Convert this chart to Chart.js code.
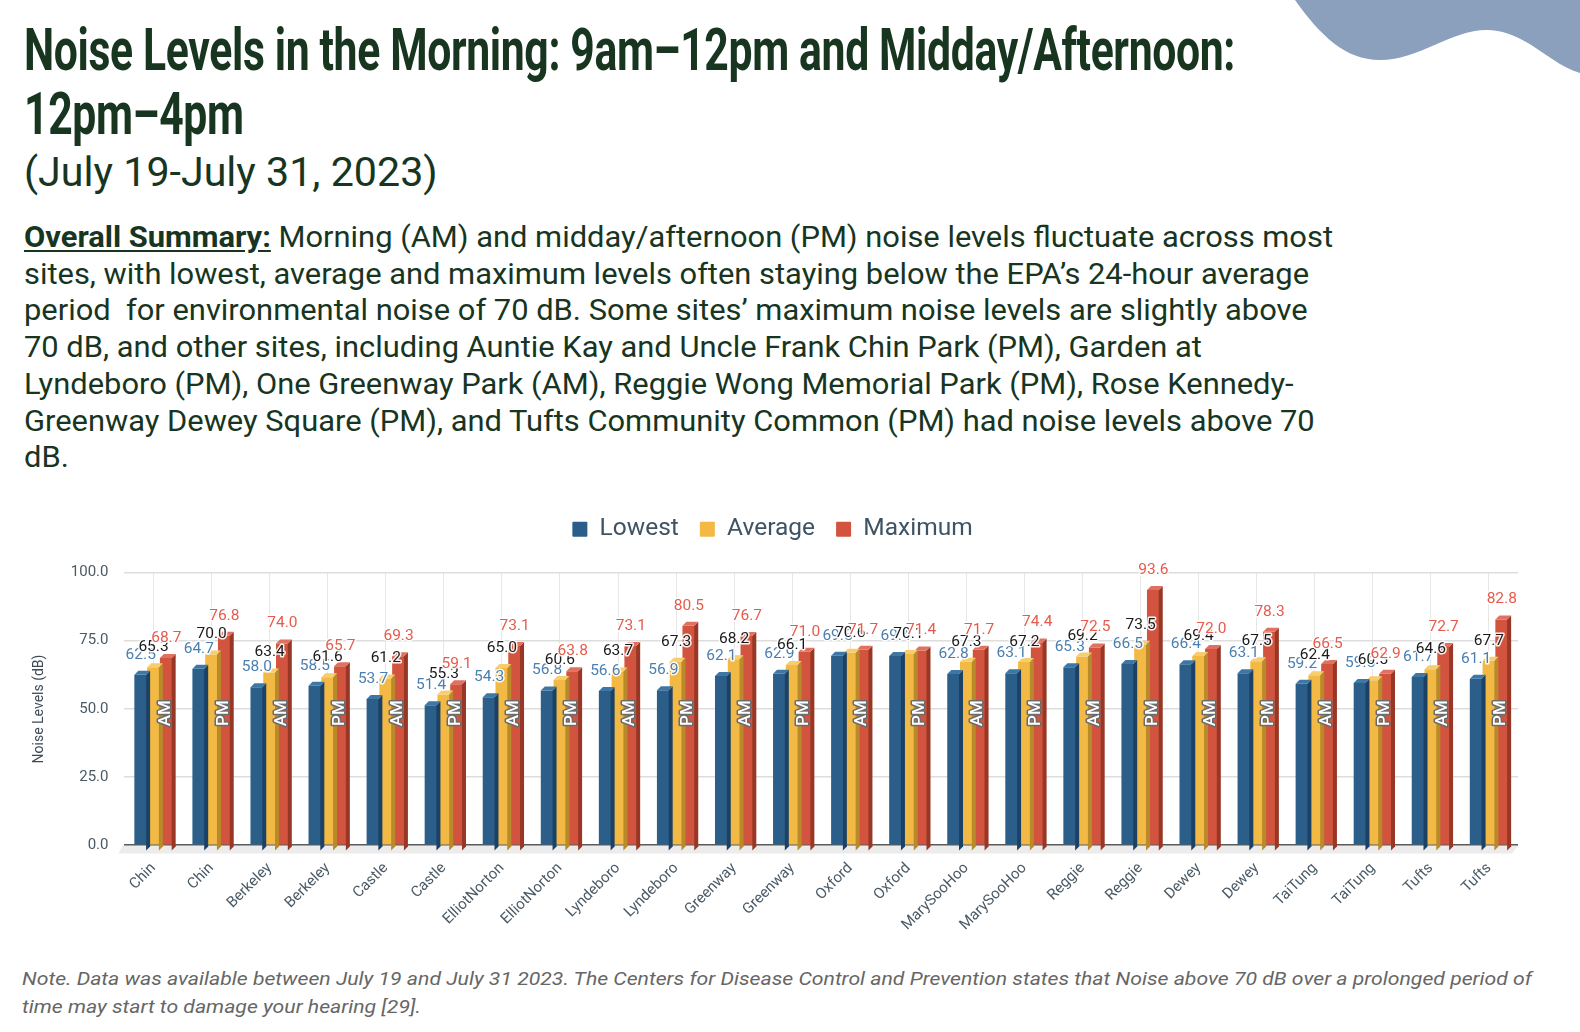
<!DOCTYPE html>
<html>
<head>
<meta charset="utf-8">
<script src="https://cdn.jsdelivr.net/npm/chart.js@4.4.0/dist/chart.umd.min.js"></script>
<style>
  html, body { margin:0; padding:0; background:#fff; width:1580px; height:1032px; overflow:hidden; }
  body { position:relative; font-family: Roboto, "Noto Sans", sans-serif; }
  #blob { position:absolute; left:0; top:0; }
  .title { position:absolute; left:24px; font-family: Roboto, sans-serif; font-weight:700; font-size:60px; color:#17351f; white-space:nowrap; transform-origin:0 0; line-height:1; letter-spacing:-0.5px; }
  #t1 { top:20px; }
  #t2 { top:84px; }
  #sub { position:absolute; left:24px; top:148px; font-size:41.2px; color:#17351f; font-weight:400; white-space:nowrap; }
  #para { position:absolute; left:24px; top:219px; font-size:29.5px; line-height:36.7px; color:#17351f; white-space:nowrap; transform-origin:0 0; }
  #para b { font-weight:700; text-decoration:underline; text-underline-offset:3px; }
  #note { position:absolute; left:22px; top:965px; font-size:19px; line-height:28px; color:#666; font-style:italic; white-space:nowrap; transform-origin:0 0; }
  #wrap { position:absolute; left:0; top:490px; width:1540px; height:458px; }
</style>
</head>
<body>
<svg id="blob" width="1580" height="120">
  <path d="M1295,0 C1320,35 1345,60 1380,60 C1420,60 1450,30 1487,30 C1525,30 1550,65 1580,73 L1580,0 Z" fill="#8aa0bd"/>
</svg>
<div class="title" id="t1">Noise Levels in the Morning: 9am–12pm and Midday/Afternoon:</div>
<div class="title" id="t2">12pm–4pm</div>
<div id="sub">(July 19-July 31, 2023)</div>
<div id="para"><b>Overall Summary:</b> Morning (AM) and midday/afternoon (PM) noise levels fluctuate across most<br>sites, with lowest, average and maximum levels often staying below the EPA’s 24-hour average<br>period&nbsp; for environmental noise of 70 dB. Some sites’ maximum noise levels are slightly above<br>70 dB, and other sites, including Auntie Kay and Uncle Frank Chin Park (PM), Garden at<br>Lyndeboro (PM), One Greenway Park (AM), Reggie Wong Memorial Park (PM), Rose Kennedy-<br>Greenway Dewey Square (PM), and Tufts Community Common (PM) had noise levels above 70<br>dB.</div>
<div id="wrap"><canvas id="c"></canvas></div>
<div id="note">Note. Data was available between July 19 and July 31 2023. The Centers for Disease Control and Prevention states that Noise above 70 dB over a prolonged period of<br>time may start to damage your hearing [29].</div>
<script>
const sites = ['Chin','Chin','Berkeley','Berkeley','Castle','Castle','ElliotNorton','ElliotNorton','Lyndeboro','Lyndeboro','Greenway','Greenway','Oxford','Oxford','MarySooHoo','MarySooHoo','Reggie','Reggie','Dewey','Dewey','TaiTung','TaiTung','Tufts','Tufts'];
const periods = ['AM','PM','AM','PM','AM','PM','AM','PM','AM','PM','AM','PM','AM','PM','AM','PM','AM','PM','AM','PM','AM','PM','AM','PM'];
const lowest = [62.5,64.7,58.0,58.5,53.7,51.4,54.3,56.8,56.6,56.9,62.1,62.9,69.5,69.4,62.8,63.1,65.3,66.5,66.4,63.1,59.2,59.5,61.7,61.1];
const average = [65.3,70.0,63.4,61.6,61.2,55.3,65.0,60.6,63.7,67.3,68.2,66.1,70.6,70.1,67.3,67.2,69.2,73.5,69.4,67.5,62.4,60.5,64.6,67.7];
const maximum = [68.7,76.8,74.0,65.7,69.3,59.1,73.1,63.8,73.1,80.5,76.7,71.0,71.7,71.4,71.7,74.4,72.5,93.6,72.0,78.3,66.5,62.9,72.7,82.8];
const yTicks = [0,25,50,75,100];

function scaleTo(id, target){ const el=document.getElementById(id); const w=el.getBoundingClientRect().width; const s=target/w; el.style.transform='scaleX('+s+')'; return s; }
const s = scaleTo('t1', 1211);
document.getElementById('t2').style.transform = 'scaleX(' + s + ')';
scaleTo('para', 1309);
scaleTo('note', 1510);

const barColors = ['#2b5f8a','#f2b944','#d2543e'];
const sideColors = ['#1c4166','#b88a2a','#983726'];
const topColors = ['#3d77a6','#f7cd6e','#e07060'];
const labelColors = ['#4a7fb0','#1a1a1a','#e65b4b'];
const D = 4;

const legendGap = {
  id:'legendGap',
  beforeInit(chart){
    const orig = chart.legend.fit;
    chart.legend.fit = function(){ orig.bind(chart.legend)(); this.height += 21; };
  }
};

const threeD = {
  id:'threeD',
  beforeDatasetsDraw(chart){
    const {ctx, chartArea, scales:{y}} = chart;
    const b = y.getPixelForValue(0);
    ctx.save();
    ctx.fillStyle = '#ececec';
    ctx.beginPath();
    ctx.moveTo(chartArea.left - 2, b);
    ctx.lineTo(chartArea.right, b);
    ctx.lineTo(chartArea.right - 6, b + 8);
    ctx.lineTo(chartArea.left - 6, b + 8);
    ctx.closePath();
    ctx.fill();
    ctx.restore();
  },
  afterDatasetDraw(chart, args){
    const {ctx} = chart;
    const i = args.index;
    const meta = chart.getDatasetMeta(i);
    ctx.save();
    meta.data.forEach(bar => {
      const w = bar.width, x0 = bar.x - w/2, x1 = bar.x + w/2, top = bar.y, base = bar.base;
      ctx.fillStyle = sideColors[i];
      ctx.beginPath();
      ctx.moveTo(x1 - 1, top); ctx.lineTo(x1 - 1 + D, top - D); ctx.lineTo(x1 - 1 + D, base + 2); ctx.lineTo(x1 - 1, base + 6); ctx.closePath(); ctx.fill();
      ctx.fillStyle = topColors[i];
      ctx.beginPath();
      ctx.moveTo(x0, top); ctx.lineTo(x0 + D, top - D); ctx.lineTo(x1 - 1 + D, top - D); ctx.lineTo(x1 - 1, top); ctx.closePath(); ctx.fill();
    });
    ctx.restore();
  },
  afterDatasetsDraw(chart){
    const {ctx, scales:{y}} = chart;
    ctx.save();
    const red = chart.getDatasetMeta(2);
    ctx.font = '500 17px Roboto';
    ctx.textAlign = 'center'; ctx.textBaseline = 'middle';
    red.data.forEach((bar, k) => {
      ctx.save();
      ctx.translate(bar.x - 1, y.getPixelForValue(48.5));
      ctx.rotate(-Math.PI/2);
      ctx.lineWidth = 3; ctx.strokeStyle = '#6b6b6b'; ctx.lineJoin = 'round';
      ctx.strokeText(periods[k], 0, 0);
      ctx.fillStyle = '#ffffff';
      ctx.fillText(periods[k], 0, 0);
      ctx.restore();
    });
    ctx.font = '15.5px Roboto';
    ctx.textAlign = 'center'; ctx.textBaseline = 'middle';
    chart.data.datasets.forEach((ds, i) => {
      const meta = chart.getDatasetMeta(i);
      meta.data.forEach((bar, k) => {
        const t = ds.data[k].toFixed(1);
        const yy = bar.y - 20;
        ctx.lineWidth = 3; ctx.strokeStyle = 'rgba(255,255,255,0.9)'; ctx.lineJoin = 'round';
        ctx.strokeText(t, bar.x, yy);
        ctx.fillStyle = labelColors[i];
        ctx.fillText(t, bar.x, yy);
      });
    });
    ctx.restore();
  }
};

new Chart(document.getElementById('c'), {
  type:'bar',
  data:{
    labels: sites,
    datasets:[
      {label:'Lowest', data: lowest, backgroundColor: barColors[0]},
      {label:'Average', data: average, backgroundColor: barColors[1]},
      {label:'Maximum', data: maximum, backgroundColor: barColors[2]}
    ]
  },
  options:{
    responsive:true, maintainAspectRatio:false, animation:false,
    layout:{padding:{left:27, right:22, top:6, bottom:0}},
    datasets:{bar:{categoryPercentage:0.66, barPercentage:1.0}},
    plugins:{
      legend:{
        position:'top',
        labels:{ font:{family:'Roboto', size:24.5}, color:'#3e5363', boxWidth:15, boxHeight:15, padding:21, useBorderRadius:true, borderRadius:1 },
      },
      tooltip:{enabled:false}
    },
    scales:{
      x:{
        grid:{ offset:false, color:'#e6e6e6', drawTicks:false },
        border:{ display:false },
        ticks:{ font:{family:'Roboto', size:15}, color:'#4a5a66', maxRotation:45, minRotation:45, autoSkip:false, padding:14 }
      },
      y:{
        min:0, max:100,
        afterBuildTicks(axis){ axis.ticks = yTicks.map(v => ({value:v})); },
        grid:{ color:(c)=> c.tick && c.tick.value===0 ? '#5a5a5a' : '#dddddd', lineWidth:(c)=> c.tick && c.tick.value===0 ? 2 : 1.5, drawTicks:false },
        border:{ display:false },
        ticks:{ font:{family:'Roboto', size:15}, color:'#4a5a66', padding:16, callback:(v)=> Number(v).toFixed(1) },
        title:{ display:true, text:'Noise Levels (dB)', font:{family:'Roboto', size:14}, color:'#3e4a55', padding:{bottom:7} }
      }
    }
  },
  plugins:[legendGap, threeD]
});
</script>
</body>
</html>
